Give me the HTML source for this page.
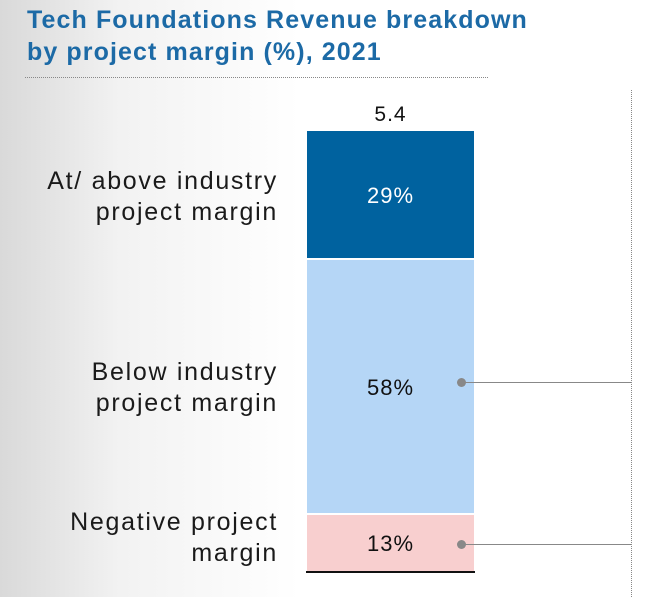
<!DOCTYPE html>
<html><head><style>
html,body{margin:0;padding:0}
body{width:646px;height:597px;position:relative;overflow:hidden;font-family:"Liberation Sans",sans-serif;
background:linear-gradient(90deg,#d9d9d9 0px,#f2f2f2 120px,#fff 300px,#fff 646px);}
.t{position:absolute;left:27px;color:#1c6aa6;font-size:25px;font-weight:bold;letter-spacing:1.1px;white-space:nowrap}
.lab{position:absolute;right:368px;text-align:right;font-size:25px;letter-spacing:1.7px;color:#1a1a1a;line-height:31px;white-space:nowrap}
.seg{position:absolute;left:307px;width:167px}
.v{position:absolute;left:307px;width:167px;text-align:center;font-size:22px;letter-spacing:1px}
</style></head><body>
<div class="t" style="top:6px">Tech Foundations Revenue breakdown</div>
<div class="t" style="top:38px">by project margin (%), 2021</div>
<div style="position:absolute;left:25px;top:77px;width:463px;border-top:1px dotted #888"></div>
<div style="position:absolute;left:631px;top:90px;height:507px;border-left:1px dotted #888"></div>
<div class="v" style="top:103px;color:#111;font-size:21px">5.4</div>
<div class="seg" style="top:131px;height:127px;background:#00629f"></div>
<div class="seg" style="top:260px;height:253px;background:#b5d6f6"></div>
<div class="seg" style="top:515px;height:56px;background:#f8cfcf"></div>
<div style="position:absolute;left:306px;top:571px;width:169px;height:2px;background:#111"></div>
<div class="v" style="top:183px;color:#fff">29%</div>
<div class="v" style="top:375px;color:#111">58%</div>
<div class="v" style="top:531px;color:#111">13%</div>
<div style="position:absolute;left:457px;top:378px;width:9px;height:9px;border-radius:50%;background:#888"></div>
<div style="position:absolute;left:461px;top:382px;width:170px;height:1px;background:#888"></div>
<div style="position:absolute;left:457px;top:540px;width:9px;height:9px;border-radius:50%;background:#888"></div>
<div style="position:absolute;left:461px;top:544px;width:170px;height:1px;background:#888"></div>
<div class="lab" style="top:166px">At/ above industry<br>project margin</div>
<div class="lab" style="top:357px">Below industry<br>project margin</div>
<div class="lab" style="top:507px">Negative project<br>margin</div>
</body></html>
